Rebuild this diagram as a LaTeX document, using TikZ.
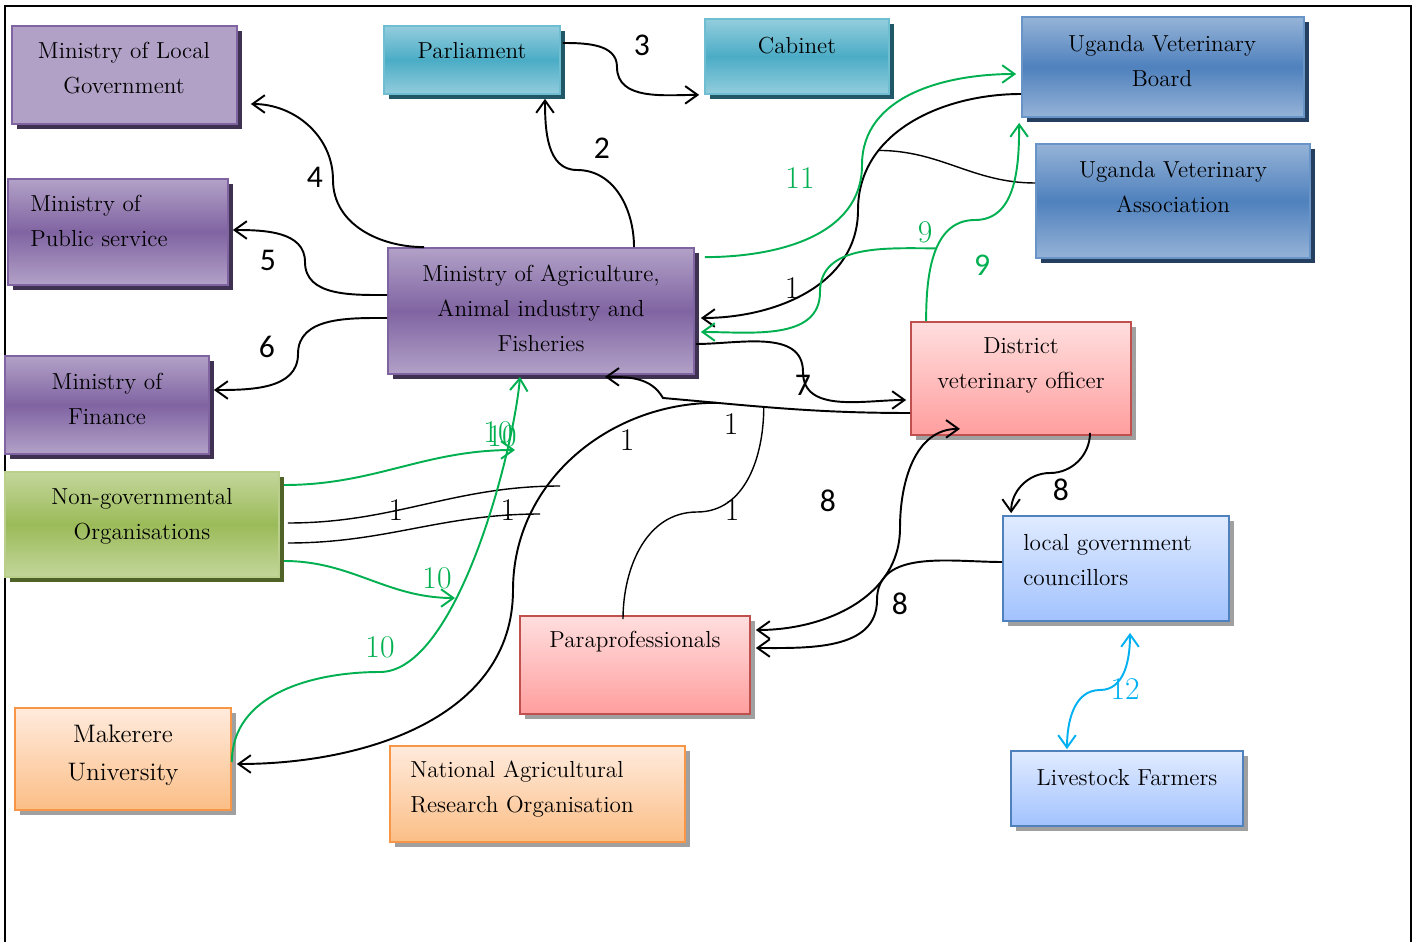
\documentclass[tikz,border=0pt]{standalone}
\usepackage{fontspec}
\newfontfamily\lblfont{Carlito}
\usetikzlibrary{arrows.meta,fit,shadows}
\definecolor{purpL}{HTML}{B2A1C7}
\definecolor{purpD}{HTML}{8064A2}
\definecolor{purpS}{HTML}{3F3151}
\definecolor{tealL}{HTML}{93CDDD}
\definecolor{tealD}{HTML}{4BACC6}
\definecolor{tealS}{HTML}{215868}
\definecolor{blueL}{HTML}{95B3D7}
\definecolor{blueD}{HTML}{4F81BD}
\definecolor{blueS}{HTML}{243F60}
\definecolor{grnL}{HTML}{C3D69B}
\definecolor{grnD}{HTML}{9BBB59}
\definecolor{grnS}{HTML}{4F6228}
\definecolor{pinkT}{HTML}{FFDEDE}
\definecolor{pinkB}{HTML}{FF9E9E}
\definecolor{pinkE}{HTML}{C0504D}
\definecolor{orT}{HTML}{FFEBDD}
\definecolor{orB}{HTML}{FBBE86}
\definecolor{orE}{HTML}{F79646}
\definecolor{lbT}{HTML}{E0EBFF}
\definecolor{lbB}{HTML}{A2C2FE}
\definecolor{lineG}{HTML}{00B050}
\definecolor{lineC}{HTML}{00B0F0}
\definecolor{shadowG}{HTML}{A0A0A0}
\begin{document}
\begin{tikzpicture}[x=0.02cm, y=-0.02cm, >={Straight Barb[length=7pt,width=10pt]},
    shadowbox/.style={inner sep=0pt, line width=1pt,
        drop shadow={shadow xshift=2.6pt, shadow yshift=-2.6pt, opacity=1, fill=#1}},
    purplebox/.style={shadowbox=purpS, draw=purpD, top color=purpL, bottom color=purpL, middle color=purpD},
    tealbox/.style={shadowbox=tealS, draw=tealD!80, top color=tealL, bottom color=tealL, middle color=tealD},
    bluebox/.style={shadowbox=blueS, draw=blueD!85!white, top color=blueL, bottom color=blueL, middle color=blueD},
    greenbox/.style={shadowbox=grnS, draw=grnD!70!white, top color=grnL, bottom color=grnL, middle color=grnD},
    pinkbox/.style={shadowbox=shadowG, draw=pinkE, top color=pinkT, bottom color=pinkB},
    orangebox/.style={shadowbox=shadowG, draw=orE, top color=orT, bottom color=orB},
    lightbox/.style={shadowbox=shadowG, draw=blueD, top color=lbT, bottom color=lbB},
    txt/.style={font=\fontsize{13.2}{19.9}\selectfont, align=center, inner sep=0pt},
    num/.style={font=\lblfont\fontsize{18}{18}\selectfont, inner sep=0pt},
    snum/.style={font=\fontsize{18}{18}\selectfont, inner sep=0pt},
    conn/.style={line width=1.1pt},
    thinconn/.style={line width=0.8pt},
    gconn/.style={line width=1.1pt, draw=lineG},
    cconn/.style={line width=1.1pt, draw=lineC}]
    \useasboundingbox (0,0) rectangle (1416,942);
    % frame
    \draw[line width=1.2pt] (5,942) -- (5,6) -- (1411,6) -- (1411,942);
    % boxes
    \node[purplebox, fill=purpL, top color=purpL, bottom color=purpL, middle color=purpL, fit={(12,26) (237,124)}] (mlg) {};
    \node[purplebox, fit={(8,179) (228,285)}] (mps) {};
    \node[purplebox, fit={(5,356) (209,454)}] (mof) {};
    \node[greenbox, fit={(5,472) (279,577)}] (ngo) {};
    \node[orangebox, fit={(15,708) (231,810)}] (mak) {};
    \node[orangebox, fit={(390,746) (685,842)}] (naro) {};
    \node[tealbox, fit={(384,26) (560,94)}] (parl) {};
    \node[tealbox, fit={(705,19) (889,94)}] (cab) {};
    \node[purplebox, fit={(388,248) (694,374)}] (maaif) {};
    \node[bluebox, fit={(1022,17) (1304,117)}] (uvb) {};
    \node[bluebox, fit={(1036,144) (1310,258)}] (uva) {};
    \node[pinkbox, fit={(911,322) (1131,435)}] (dvo) {};
    \node[lightbox, fit={(1003,516) (1229,621)}] (lgc) {};
    \node[lightbox, fit={(1011,751) (1243,826)}] (lf) {};
    \node[pinkbox, fit={(520,616) (750,714)}] (para) {};
    % box texts
    \node[txt] (mlgt) at (124,68) {Ministry of Local\\Government};
    \node[txt, anchor=west, align=left] (mpst) at (30,221) {Ministry of\\Public service};
    \node[txt] (moft) at (107,399) {Ministry of\\Finance};
    \node[txt] (ngot) at (142,516) {Non-governmental\\Organisations};
    \node[txt, font=\fontsize{14.4}{21.6}\selectfont] (makt) at (123,755) {Makerere\\University};
    \node[txt, anchor=west, align=left] (narot) at (410,789) {National Agricultural\\Research Organisation};
    \node[txt] (parlt) at (472,51) {Parliament};
    \node[txt] (cabt) at (797,46) {Cabinet};
    \node[txt] (maaift) at (541,308) {Ministry of Agriculture,\\Animal industry and\\Fisheries};
    \node[txt] (uvbt) at (1162,61) {Uganda Veterinary\\Board};
    \node[txt] (uvat) at (1173,187) {Uganda Veterinary\\Association};
    \node[txt] (dvot) at (1021,365) {District\\veterinary officer};
    \node[txt, anchor=west, align=left] (lgct) at (1023,560) {local government\\councillors};
    \node[txt] (lft) at (1127,778) {Livestock Farmers};
    \node[txt] (parat) at (635,642) {Paraprofessionals};
    % free ends
    \coordinate (n1e) at (560,486);
    \coordinate (n2e) at (540,514);
    \coordinate (g1e) at (515,450);
    \coordinate (g2e) at (455,598);
    % black connectors
    \draw[conn,->] ([shift={(37,0)}]maaif.north west) to[out=180,in=270] (333,180) to[out=90,in=0] ([shift={(13,29)}]mlg.east);
    \draw[conn,->] ([shift={(0,-16)}]maaif.west) to[out=180,in=270] (305,262) to[out=90,in=0] ([shift={(4,-2)}]mps.east);
    \draw[conn,->] ([shift={(0,7)}]maaif.west) to[out=180,in=90] (298,354) to[out=270,in=0] ([shift={(4,-15)}]mof.east);
    \draw[conn,->] ([shift={(93,0)}]maaif.north) to[out=90,in=0] (577,170) to[out=180,in=270] ([shift={(73,4)}]parl.south);
    \draw[conn,->] ([shift={(2,-17)}]parl.east) to[out=0,in=90] (617,67) to[out=270,in=180] ([shift={(-5,0)}]cab.south west);
    \draw[conn,->] ([shift={(0,27)}]uvb.west) to[out=180,in=90] coordinate[pos=.7] (j1) (858,210) to[out=270,in=0] ([shift={(6,7)}]maaif.east);
    \draw[thinconn] ([shift={(0,-18)}]uva.west) to[out=180,in=0] (j1);
    \draw[conn,->] ([shift={(1,33)}]maaif.east) to[out=0,in=90] (803,372) to[out=270,in=180] ([shift={(-4,21.5)}]dvo.west);
    \draw[conn,->] ([shift={(0,34.5)}]dvo.west) to[out=180,in=-5] coordinate[pos=.6] (jp) coordinate[pos=.8] (jm) (663,398) to[out=120,in=0] ([shift={(64,2)}]maaif.south);
    \draw[conn,->] (jm) to[out=180,in=90] (513,590) to[out=270,in=0] ([shift={(5,5)}]mak.east);
    \draw[thinconn] ([shift={(-12,4)}]para.north) to[out=90,in=180] (697,512) to[out=0,in=270] (jp);
    \draw[thinconn] ([shift={(8,-1.5)}]ngo.east) to[out=0,in=180] (n1e);
    \draw[thinconn] ([shift={(8,18.5)}]ngo.east) to[out=0,in=180] (n2e);
    \draw[conn,->] ([shift={(69,-3)}]dvo.south) to[out=270,in=0] (1050,473) to[out=180,in=90] ([shift={(9,-2)}]lgc.north west);
    \draw[conn,<->] ([shift={(5,-35)}]para.east) to[out=0,in=270] (900,528) to[out=90,in=180] ([shift={(-61,-7)}]dvo.south);
    \draw[conn,->] ([shift={(0,-6.5)}]lgc.west) to[out=180,in=90] (877,600) to[out=270,in=0] ([shift={(5,-17)}]para.east);
    % green and cyan connectors
    \draw[gconn,->] ([shift={(10,10)}]maaif.north east) to[out=0,in=270] (862,165) to[out=90,in=180] ([shift={(-5,7)}]uvb.west);
    \draw[gconn,->] ([shift={(16,0)}]dvo.north west) to[out=90,in=180] coordinate[pos=.55] (j9) (975,220) to[out=0,in=270] ([shift={(-2,5)}]uvb.south west);
    \draw[gconn,->] (j9) to[out=180,in=90] (820,292) to[out=270,in=0] ([shift={(6,21)}]maaif.east);
    \draw[gconn,->] ([shift={(4,-39.5)}]ngo.east) to[out=0,in=180] (g1e);
    \draw[gconn,->] ([shift={(4,36.5)}]ngo.east) to[out=0,in=180] (g2e);
    \draw[gconn,->] ([shift={(0,3)}]mak.east) to[out=90,in=180] (380,672) to[out=0,in=265,looseness=0.6] ([shift={(-21,2)}]maaif.south);
    \draw[cconn,<->] ([shift={(14,11)}]lgc.south) to[out=270,in=0] (1100,690) to[out=180,in=90] ([shift={(-60,-1)}]lf.north);
    % labels
    \node[num] (l4) at (315,177) {4};
    \node[num] (l5) at (268,260) {5};
    \node[num] (l6) at (267,347) {6};
    \node[num] (l2) at (602,148) {2};
    \node[num] (l3) at (642,45) {3};
    \node[num] (l7) at (803,385) {7};
    \node[num] (l8a) at (828,501) {8};
    \node[num] (l8b) at (1061,490) {8};
    \node[num] (l8c) at (900,604) {8};
    \node[num, text=lineG] (l9a) at (982,265) {9};
    \node[snum, text=lineG] (l9b) at (925,232) {9};
    \node[snum, text=lineG] (l11) at (800,178) {11};
    \node[snum] (l1a) at (792,288) {1};
    \node[snum] (l1b) at (731,424) {1};
    \node[snum] (l1c) at (627,440) {1};
    \node[snum] (l1d) at (732,510) {1};
    \node[snum] (l1e) at (396,510) {1};
    \node[snum] (l1f) at (508,510) {1};
    \node[snum, text=lineG] (l10a) at (498,432) {10};
    \node[snum, text=lineG] (l10b) at (502,436) {10};
    \node[snum, text=lineG] (l10c) at (437,578) {10};
    \node[snum, text=lineG] (l10d) at (380,647) {10};
    \node[snum, text=lineC] (l12) at (1125,689) {12};
\end{tikzpicture}
\end{document}
